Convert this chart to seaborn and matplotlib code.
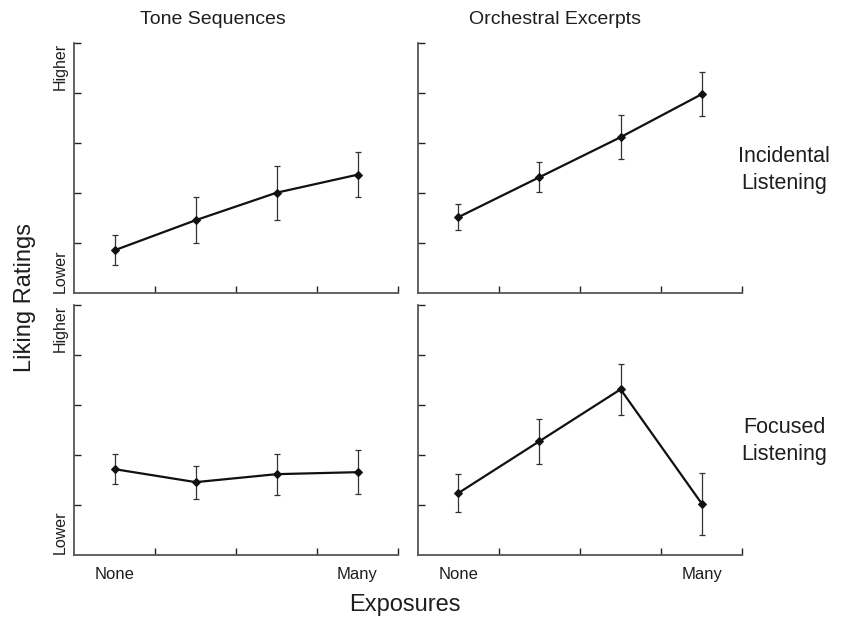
"""Mere exposure: liking ratings by exposure count, 2x2 panel figure."""

import matplotlib
matplotlib.use("Agg")
import matplotlib.pyplot as plt
import numpy as np
import pandas as pd
import seaborn as sns

# ── Data ───────────────────────────────────────────────────────────────────
exposure_levels = [0, 1, 2, 3]
exposure_tick_labels = ["None", "Many"]
stimulus_types = ["Tone Sequences", "Orchestral Excerpts"]
listening_modes = ["Incidental\nListening", "Focused\nListening"]

tone_incidental = [0.85, 1.45, 2.00, 2.36]
tone_incidental_err = [0.30, 0.46, 0.54, 0.45]
orch_incidental = [1.51, 2.31, 3.11, 3.97]
orch_incidental_err = [0.26, 0.30, 0.44, 0.44]
tone_focused = [1.71, 1.45, 1.61, 1.65]
tone_focused_err = [0.30, 0.33, 0.41, 0.44]
orch_focused = [1.23, 2.27, 3.31, 1.02]
orch_focused_err = [0.38, 0.45, 0.51, 0.62]

panels = {
    (0, 0): (tone_incidental, tone_incidental_err),
    (0, 1): (orch_incidental, orch_incidental_err),
    (1, 0): (tone_focused, tone_focused_err),
    (1, 1): (orch_focused, orch_focused_err),
}

sns.set_style("ticks")
plt.rcParams["font.family"] = ["Liberation Sans", "DejaVu Sans"]
TEXT = "#1e1e1e"
SPINE = "#555555"

W, H = 841, 619
fig = plt.figure(figsize=(W / 100, H / 100), dpi=100)

# panel boxes in pixels: left, top, right, bottom
col_x = [(74.3, 398.0), (417.7, 742.3)]
row_y = [(42.7, 292.7), (305.0, 554.5)]

for (r, c), (vals, errs) in panels.items():
    x0, x1 = col_x[c]
    y0, y1 = row_y[r]
    ax = fig.add_axes([x0 / W, 1 - y1 / H, (x1 - x0) / W, (y1 - y0) / H])

    df = pd.DataFrame({"exposure": exposure_levels, "rating": vals, "err": errs})
    ax.errorbar(df["exposure"], df["rating"], yerr=df["err"], fmt="none",
                ecolor="#333333", elinewidth=0.9, capsize=2.0, capthick=0.9,
                zorder=2)
    sns.lineplot(data=df, x="exposure", y="rating", ax=ax, color="#111111",
                 lw=1.6, marker="D", markersize=4.5, markeredgecolor="#111111",
                 errorbar=None, zorder=3)

    ax.set_xlim(-0.5, 3.5)
    ax.set_ylim(0, 5)
    ax.set_xticks([0.5, 1.5, 2.5, 3.5])
    ax.set_xticklabels([])
    ax.set_yticks([1, 2, 3, 4, 5])
    ax.set_yticklabels([])
    ax.tick_params(direction="in", length=5, width=1.0, color="#222222")
    ax.set_xlabel("")
    ax.set_ylabel("")
    sns.despine(ax=ax)
    for side in ("left", "bottom"):
        ax.spines[side].set_color(SPINE)
        ax.spines[side].set_linewidth(1.3)

    if r == 1:
        ax.set_xticks([exposure_levels[0], exposure_levels[-1]], minor=True)
        ax.set_xticklabels(exposure_tick_labels, minor=True, fontsize=12,
                           color=TEXT)
        ax.tick_params(axis="x", which="minor", length=0, pad=9)

    if c == 0:
        ax.text(-0.02, 1.0, "Higher", rotation=90, ha="right", va="top",
                fontsize=11.5, color=TEXT, transform=ax.transAxes)
        ax.text(-0.02, 0.0, "Lower", rotation=90, ha="right", va="bottom",
                fontsize=11.5, color=TEXT, transform=ax.transAxes)

# column titles
for title, cx in zip(stimulus_types, [213, 555]):
    fig.text(cx / W, 1 - 20 / H, title, ha="center", va="center",
             fontsize=14, color=TEXT)

# row labels
for label, cy in zip(listening_modes, [170, 441]):
    fig.text(784 / W, 1 - cy / H, label, ha="center", va="center",
             fontsize=15.5, color=TEXT, linespacing=1.4)

fig.text(25 / W, 1 - 298 / H, "Liking Ratings", rotation=90, ha="center",
         va="center", fontsize=17, color=TEXT)
fig.text(405 / W, 1 - 605 / H, "Exposures", ha="center", va="center",
         fontsize=17, color=TEXT)

fig.savefig("out.png", dpi=100)
